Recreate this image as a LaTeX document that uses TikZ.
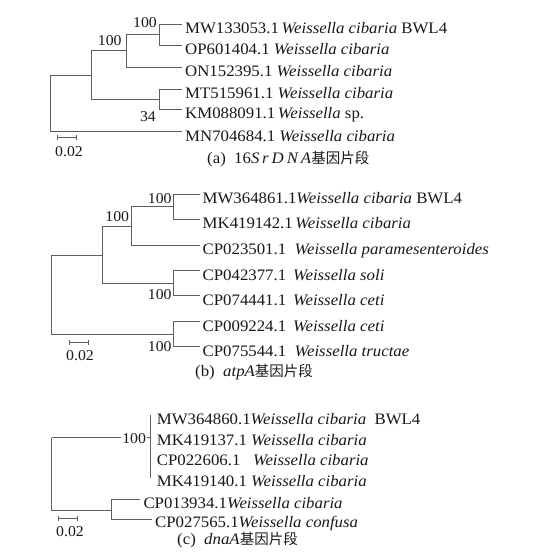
\documentclass[tikz,border=0pt]{standalone}
\usepackage{fontspec}
\setmainfont{Liberation Serif}[FakeStretch=1.05]
\newfontfamily\cjk{Noto Sans CJK SC}
\definecolor{lc}{RGB}{95,95,95}
\definecolor{tc}{RGB}{25,25,25}
\newcommand{\wc}{\textit{Weissella cibaria}}
\newcommand{\zh}[1]{{\cjk\fontsize{14.5}{16}\selectfont #1}}
\begin{document}
\begin{tikzpicture}[x=1pt,y=-1pt,
  br/.style={draw=lc, line width=0.9pt},
  leaf/.style={anchor=west, inner xsep=3pt, inner ysep=0pt, text height=18.6pt, text depth=0pt, text=tc, font=\fontsize{16}{18}\selectfont},
  boot/.style={anchor=base east, inner sep=0pt, text=tc, font=\fontsize{15}{18}\selectfont},
  lbl/.style={anchor=base west, inner sep=0pt, text=tc, font=\fontsize{15}{18}\selectfont},
  capt/.style={anchor=base west, inner sep=0pt, text=tc, font=\fontsize{16}{18}\selectfont}]
\useasboundingbox (0,0) rectangle (549,560);
\fill[white] (0,0) rectangle (549,560);

% ---------- panel (a) ----------
\coordinate (a0) at (50,75);
\coordinate (aC) at (91.7,75);
\coordinate (aB) at (126.7,50);
\coordinate (aA) at (159,34.3);
\coordinate (aD) at (159,99.3);
\node[leaf] (la1) at (182,24.3) {MW133053.1\,\wc\ BWL4};
\node[leaf] (la2) at (182,45) {OP601404.1 \wc};
\node[leaf] (la3) at (182,67.3) {ON152395.1 \wc};
\node[leaf] (la4) at (182,89) {MT515961.1 \wc};
\node[leaf] (la5) at (182,109.3) {KM088091.1\,\textit{Weissella} sp.};
\node[leaf] (la6) at (182,131.7) {MN704684.1 \wc};
\draw[br] (a0) -- (aC);
\draw[br] (a0) |- (la6);
\draw[br] (aC) |- (aB);
\draw[br] (aC) |- (aD);
\draw[br] (aB) |- (aA);
\draw[br] (aB) |- (la3);
\draw[br] (aA) |- (la1);
\draw[br] (aA) |- (la2);
\draw[br] (aD) |- (la4);
\draw[br] (aD) |- (la5);
\node[boot] (ba1) at (157,27.3) {100};
\node[boot] (ba2) at (121.7,45) {100};
\node[boot] (ba3) at (156,121) {34};
\coordinate (sa1) at (57.3,137.7);
\coordinate (sa2) at (76,137.7);
\draw[br] (sa1) -- (sa2);
\draw[br] ([yshift=-2.5pt]sa1) -- ([yshift=2.5pt]sa1);
\draw[br] ([yshift=-2.5pt]sa2) -- ([yshift=2.5pt]sa2);
\node[lbl] (sla) at (55,156.7) {0.02};
\node[capt] (capa) at (207,163.3) {(a)\ \ 16\textit{S\,r\kern3pt D\kern3pt N\kern3pt A}\zh{基因片段}};

% ---------- panel (b) ----------
\coordinate (b0) at (51,255);
\coordinate (bE) at (102,255);
\coordinate (bF) at (131,226);
\coordinate (bG) at (173.3,206);
\coordinate (bH) at (173.3,283.3);
\coordinate (bI) at (173.3,334);
\node[leaf] (lb1) at (199.5,194.3) {MW364861.1\wc\ BWL4};
\node[leaf] (lb2) at (199.5,219) {MK419142.1\,\wc};
\node[leaf] (lb3) at (199.5,245) {CP023501.1\ \ \textit{Weissella paramesenteroides}};
\node[leaf] (lb4) at (199.5,270.7) {CP042377.1\ \,\textit{Weissella soli}};
\node[leaf] (lb5) at (199.5,295.7) {CP074441.1\ \,\textit{Weissella ceti}};
\node[leaf] (lb6) at (199.5,321.7) {CP009224.1\ \,\textit{Weissella ceti}};
\node[leaf] (lb7) at (199.5,346.7) {CP075544.1\ \ \textit{Weissella tructae}};
\draw[br] (b0) -- (bE);
\draw[br] (b0) |- (bI);
\draw[br] (bE) |- (bF);
\draw[br] (bE) |- (bH);
\draw[br] (bF) |- (bG);
\draw[br] (bF) |- (lb3);
\draw[br] (bG) |- (lb1);
\draw[br] (bG) |- (lb2);
\draw[br] (bH) |- (lb4);
\draw[br] (bH) |- (lb5);
\draw[br] (bI) |- (lb6);
\draw[br] (bI) |- (lb7);
\node[boot] (bb1) at (171.7,203.3) {100};
\node[boot] (bb2) at (129.3,221.7) {100};
\node[boot] (bb3) at (171.7,299.3) {100};
\node[boot] (bb4) at (171.7,351) {100};
\coordinate (sb1) at (69.3,342.7);
\coordinate (sb2) at (88.3,342.7);
\draw[br] (sb1) -- (sb2);
\draw[br] ([yshift=-2.5pt]sb1) -- ([yshift=2.5pt]sb1);
\draw[br] ([yshift=-2.5pt]sb2) -- ([yshift=2.5pt]sb2);
\node[lbl] (slb) at (66,360) {0.02};
\node[capt] (capb) at (195,376.5) {(b)\ \ \textit{atpA}\zh{基因片段}};

% ---------- panel (c) ----------
\coordinate (c0) at (51.7,437.7);
\coordinate (cJ) at (150,437.7);
\coordinate (cK) at (111.7,510);
\node[leaf] (lc1) at (153.7,415) {MW364860.1\wc\ \ BWL4};
\node[leaf] (lc2) at (153.7,436) {MK419137.1 \wc};
\node[leaf] (lc3) at (153.7,456.5) {CP022606.1\ \ \ \wc};
\node[leaf] (lc4) at (153.7,477.5) {MK419140.1 \wc};
\node[leaf] (lc5) at (140.3,499.3) {CP013934.1\wc};
\node[leaf, text height=16.6pt] (lc6) at (152,519) {CP027565.1\textit{Weissella confusa}};
\draw[br] (c0) -- (cJ);
\draw[br] (c0) |- (cK);
\draw[br] (cJ |- lc1) -- (cJ |- lc4);
\draw[br] (cK) |- (lc5);
\draw[br] (cK) |- (lc6);
\node[boot, fill=white, inner xsep=1.5pt, inner ysep=1.5pt] (bc1) at (147.6,443.3) {100\hspace{2.9pt}};
\coordinate (sc1) at (58.3,518.3);
\coordinate (sc2) at (77.3,518.3);
\draw[br] (sc1) -- (sc2);
\draw[br] ([yshift=-2.5pt]sc1) -- ([yshift=2.5pt]sc1);
\draw[br] ([yshift=-2.5pt]sc2) -- ([yshift=2.5pt]sc2);
\node[lbl] (slc) at (56,536.7) {0.02};
\node[capt] (capc) at (177,544) {(c)\ \ \textit{dnaA}\zh{基因片段}};
\end{tikzpicture}
\end{document}
